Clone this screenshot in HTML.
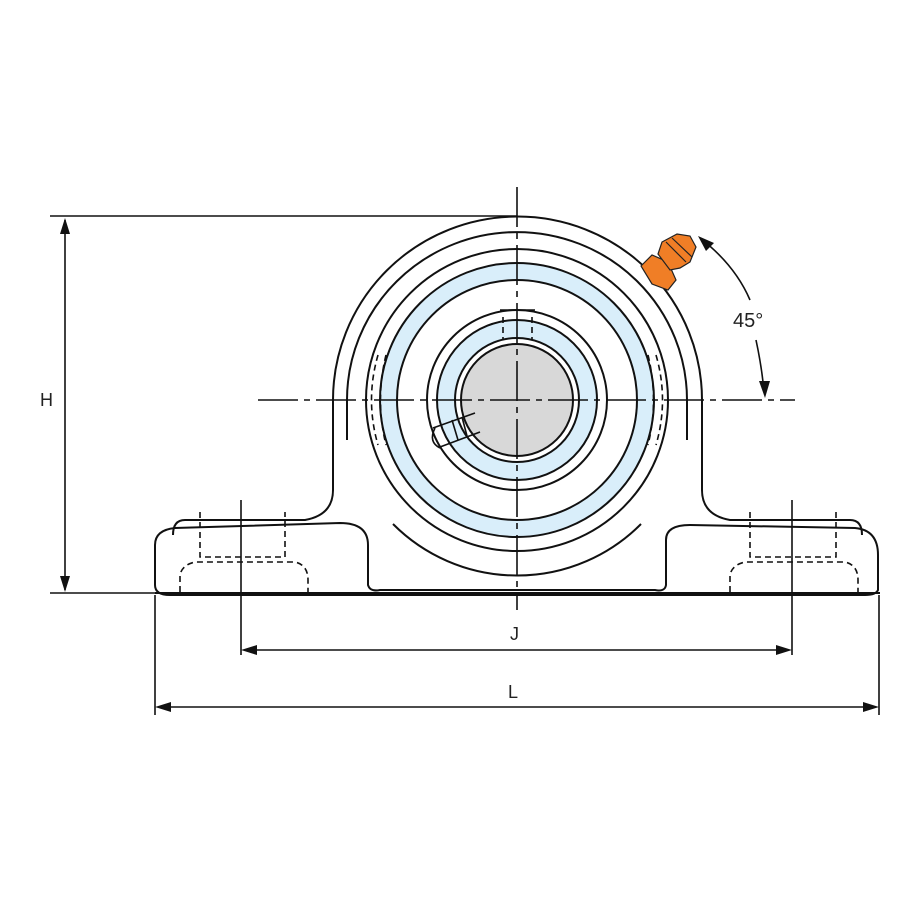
<!DOCTYPE html>
<html><head><meta charset="utf-8"><style>
html,body{margin:0;padding:0;background:#fff}
svg{display:block}
text{font-family:"Liberation Sans",sans-serif;fill:#222}
</style></head><body>
<svg width="900" height="900" viewBox="0 0 900 900" xmlns="http://www.w3.org/2000/svg">
<rect width="900" height="900" fill="#fff"/>
<g fill="none" stroke="#111" stroke-width="2">
<path d="M333,400 L333,490 Q333,515 305,520 L185,520 Q173,520 173,535"/>
<path d="M702,400 L702,490 Q702,515 730,520 L850,520 Q862,520 862,535"/>
<path d="M333,400 A184,183 0 0 1 702,400"/>
<path d="M347,400 A170,168 0 0 1 687,400 L687,440"/>
<path d="M347,400 L347,440"/>
<path d="M155,585 L155,545 Q155,530 175,528 L340,523 Q368,523 368,545 L368,585 Q370,592 380,590 L655,590 Q665,592 666,585 L666,540 Q666,525 690,525 L855,528 Q878,530 878,555 L878,590 Q876,595 865,595 L170,595 Q155,595 155,585"/>
<path d="M155,593 L880,593"/>
</g>
<g fill="none" stroke="#111" stroke-width="2">
<circle cx="517" cy="400" r="151"/>
<circle cx="517" cy="400" r="137" fill="#d9eefa"/>
<circle cx="517" cy="400" r="120" fill="#fff"/>
<circle cx="517" cy="400" r="90"/>
<circle cx="517" cy="400" r="80" fill="#d9eefa"/>
<circle cx="517" cy="400" r="62" fill="#fff"/>
<circle cx="517" cy="400" r="56" fill="#d8d8d8"/>
<path d="M393,524 A175,175 0 0 0 641,524"/>
</g>
<g fill="none" stroke="#111" stroke-width="1.6" stroke-dasharray="6,4">
<path d="M378,355 Q365,400 378,445"/><path d="M386,355 Q375,400 386,445"/>
<path d="M656,355 Q669,400 656,445"/><path d="M648,355 Q659,400 648,445"/>
<path d="M503,317 L503,340 M532,317 L532,340"/>
<path d="M200,512 L200,557 L285,557 L285,512"/>
<path d="M180,592 L180,575 Q182,565 195,562 L295,562 Q308,565 308,580 L308,592"/>
<path d="M750,512 L750,557 L836,557 L836,512"/>
<path d="M730,592 L730,575 Q732,565 745,562 L845,562 Q858,565 858,580 L858,592"/>
</g>
<g fill="none" stroke="#111" stroke-width="1.6">
<path d="M433,428 L475,413 M440,447 L480,432 M435,428 Q428,442 440,448"/>
<path d="M452,420 L458,440 M462,417 L467,436"/>
<path d="M500,310 L535,310"/>
</g>
<g stroke="#111" stroke-width="1.6" fill="none">
<path d="M517,187 L517,610" stroke-dasharray="40,6,6,6"/>
<path d="M258,400 L795,400" stroke-dasharray="40,6,6,6"/>
<path d="M50,216 L517,216"/>
<path d="M50,593 L155,593"/>
<path d="M65,220 L65,590"/>
<path d="M241,500 L241,655 M792,500 L792,655"/>
<path d="M155,595 L155,715 M879,595 L879,715"/>
<path d="M245,650 L788,650"/>
<path d="M159,707 L875,707"/>
<path d="M700,238 Q735,265 750,300"/>
<path d="M756,340 Q762,368 764,392"/>
</g>
<g fill="#111">
<path d="M65,218 L60,234 L70,234 Z"/><path d="M65,592 L60,576 L70,576 Z"/>
<path d="M241,650 L257,645 L257,655 Z"/><path d="M792,650 L776,645 L776,655 Z"/>
<path d="M155,707 L171,702 L171,712 Z"/><path d="M879,707 L863,702 L863,712 Z"/>
<path d="M698,236 L714,243 L706,251 Z"/><path d="M765,398 L759,381 L770,381 Z"/>
</g>
<g fill="#f07e26" stroke="#222" stroke-width="1.2">
<path d="M641,266 L652,255 L668,262 L676,280 L668,290 L652,284 Z"/>
<path d="M658,254 L662,242 L677,234 L690,236 L696,247 L690,262 L680,268 L670,270 Z"/>
<path d="M666,242 L686,262 M672,238 L692,257" fill="none"/>
</g>
<text x="733" y="327" font-size="20">45°</text>
<text x="40" y="406" font-size="18">H</text>
<text x="510" y="640" font-size="18">J</text>
<text x="508" y="698" font-size="18">L</text>
</svg>
</body></html>
